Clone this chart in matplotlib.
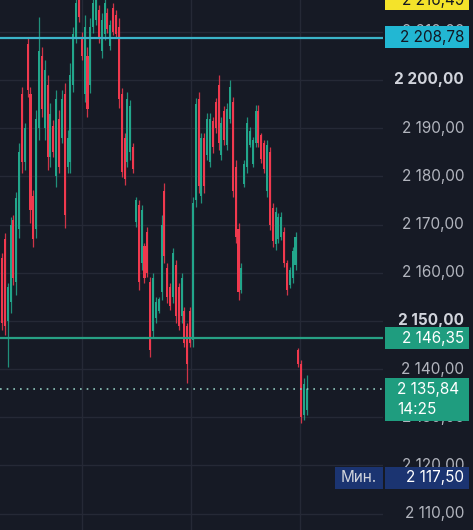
import matplotlib
matplotlib.use("Agg")
import matplotlib.pyplot as plt
from matplotlib.patches import Rectangle
from matplotlib.transforms import blended_transform_factory
import numpy as np

# ---- data ----
opens = [2163, 2167, 2150, 2154, 2171, 2158, 2169, 2197, 2183, 2207.5,
         2197, 2176, 2169, 2190, 2205, 2190, 2199, 2184, 2190.5, 2180,
         2192, 2188, 2197, 2182, 2183, 2199, 2209, 2218, 2209, 2197,
         2205, 2199, 2211, 2212.5, 2214.5, 2206, 2209.5, 2214, 2207, 2215,
         2213.5, 2211, 2197, 2188, 2183, 2185, 2186, 2170.5, 2174, 2162,
         2165.5, 2168.5, 2158, 2148, 2150.5, 2152, 2156, 2177, 2161, 2157,
         2155, 2161.5, 2157, 2151, 2152, 2149, 2152, 2146, 2175, 2196,
         2176, 2188, 2184.5, 2183, 2191.5, 2195.5, 2199, 2184.5, 2193.5, 2186.5,
         2192, 2195.5, 2182, 2169, 2156.5, 2178.5, 2182, 2186.5, 2182.5, 2187,
         2193.5, 2188.5, 2187, 2177, 2185, 2173.5, 2166, 2167, 2167.5, 2168.5,
         2162, 2157.5, 2159, 2161.5, 2144, 2141, 2130.5, 2131.5]
highs = [2164.1, 2168.3, 2157.9, 2171.6, 2172.0, 2176.8, 2186.9, 2198.5, 2191.1, 2208.9,
         2198.5, 2177.2, 2193.8, 2213.1, 2206.8, 2204.1, 2201.0, 2195.2, 2191.7, 2197.9,
         2193.8, 2197.9, 2199.4, 2189.6, 2203.5, 2211.0, 2218.0, 2219.0, 2210.0, 2213.5,
         2206.8, 2212.9, 2217.0, 2218.0, 2215.6, 2213.9, 2217.0, 2214.9, 2212.4, 2216.0,
         2214.5, 2212.9, 2198.3, 2189.0, 2197.5, 2195.9, 2186.9, 2175.7, 2175.1, 2174.1,
         2166.2, 2169.5, 2159.1, 2160.0, 2155.0, 2155.0, 2172.0, 2178.6, 2162.0, 2157.9,
         2165.1, 2162.7, 2157.9, 2160.0, 2152.9, 2149.6, 2152.9, 2175.7, 2196.3, 2197.5,
         2189.0, 2189.0, 2193.2, 2193.2, 2192.3, 2196.3, 2201.0, 2192.3, 2194.5, 2195.2,
         2200.0, 2196.5, 2183.4, 2170.3, 2162.0, 2183.4, 2192.3, 2190.2, 2188.2, 2194.8,
         2194.8, 2189.0, 2187.6, 2187.6, 2186.1, 2174.5, 2173.7, 2172.4, 2172.6, 2169.5,
         2162.7, 2161.2, 2165.4, 2168.5, 2144.4, 2141.9, 2138.2, 2138.8]
lows = [2148.1, 2147.1, 2140.5, 2151.7, 2157.5, 2155.4, 2167.2, 2180.7, 2181.3, 2196.5,
        2170.3, 2165.4, 2167.2, 2187.6, 2192.3, 2187.6, 2181.3, 2181.9, 2184.0, 2177.8,
        2180.7, 2186.9, 2169.3, 2180.7, 2180.7, 2197.5, 2207.7, 2212.0, 2204.1, 2195.4,
        2192.3, 2197.3, 2209.8, 2211.4, 2207.7, 2204.6, 2208.3, 2209.8, 2206.2, 2209.3,
        2208.9, 2194.2, 2179.9, 2178.2, 2181.9, 2183.4, 2180.7, 2169.5, 2156.4, 2160.6,
        2157.9, 2159.1, 2142.5, 2146.7, 2149.6, 2151.7, 2154.4, 2162.0, 2153.7, 2152.3,
        2153.7, 2149.6, 2148.1, 2149.6, 2144.6, 2137.1, 2144.6, 2144.6, 2173.7, 2176.6,
        2174.5, 2176.6, 2183.4, 2181.9, 2184.9, 2189.0, 2185.5, 2183.4, 2186.5, 2185.5,
        2191.1, 2175.7, 2166.2, 2154.4, 2155.8, 2177.8, 2180.7, 2186.1, 2181.9, 2186.1,
        2186.1, 2182.8, 2180.7, 2175.7, 2168.9, 2165.4, 2164.7, 2166.2, 2166.8, 2161.2,
        2155.4, 2156.8, 2157.9, 2160.6, 2140.5, 2128.8, 2129.5, 2130.5]
closes = [2149.5, 2149, 2157, 2170, 2159, 2175.5, 2185, 2183, 2190, 2198,
          2173, 2167, 2192, 2206, 2194, 2202, 2184, 2193, 2185, 2196,
          2182, 2196, 2172, 2188, 2201, 2209.5, 2216, 2213, 2205, 2211,
          2194, 2211, 2216, 2217, 2209, 2212.5, 2216, 2210.5, 2211.5, 2210,
          2209.5, 2196, 2181, 2179.5, 2196, 2194.5, 2181.5, 2175, 2158, 2173,
          2159, 2160, 2144, 2159, 2154, 2154.5, 2170, 2163.5, 2155, 2153,
          2164, 2151, 2149, 2159, 2145.5, 2141, 2145.5, 2174.5, 2195, 2178,
          2188, 2178, 2192, 2192, 2186, 2190, 2187, 2191, 2187.5, 2194,
          2198.5, 2177, 2167.5, 2156, 2161, 2182.5, 2191, 2189.5, 2187.5, 2193.5,
          2187, 2183.5, 2181.5, 2186.5, 2170, 2166.5, 2172.5, 2171.5, 2171.5, 2162,
          2156.5, 2160.5, 2164.5, 2167.5, 2141, 2130, 2137, 2135.84]

axis_ticks = [2110, 2120, 2130, 2140, 2150, 2160, 2170, 2180, 2190, 2200, 2210]
bold_ticks = [2150, 2200]
time_grid = [28.1, 66.3, 104.6]

level_top = 2208.78
level_mid = 2146.35
last_price = 2135.84
last_time = "14:25"
day_high = 2216.49
day_low = 2117.50
low_label = "Мин."

# ---- style ----
BG = "#161a25"
GRID = "#252936"
UP = "#22a68b"
DOWN = "#f0394e"
TXT = "#b2b5be"
FS = 11

plt.rcParams['font.family'] = ['Inter', 'Roboto', 'DejaVu Sans']

W, H = 473, 530
fig = plt.figure(figsize=(W / 100, H / 100), dpi=100)
fig.patch.set_facecolor(BG)
ax = fig.add_axes([0, 0, 383 / W, 1])
ax.set_facecolor(BG)

n = len(opens)
xs = np.arange(n)
ax.set_xlim(-0.7, 133.7)
ax.set_ylim(2106.6, 2216.6)

for t in axis_ticks:
    ax.axhline(t, color=GRID, lw=1, zorder=0)
for t in time_grid:
    ax.axvline(t, color=GRID, lw=1, zorder=0)

colors = [UP if c >= o else DOWN for o, c in zip(opens, closes)]
ax.vlines(xs, lows, highs, colors=colors, lw=0.9, zorder=2, alpha=0.85)
bottoms = np.minimum(opens, closes)
heights = np.abs(np.array(closes) - np.array(opens))
ax.bar(xs, heights, bottom=bottoms, width=0.72, color=colors, zorder=3, linewidth=0)

ax.axhline(level_top, color="#3bb4c9", lw=1.6, zorder=4)
ax.axhline(level_mid, color="#27a184", lw=1.6, zorder=4)
ax.axhline(last_price, color="#8fc9bd", lw=1.2, ls=(0, (1, 3)), zorder=4)

for s in ax.spines.values():
    s.set_visible(False)
ax.set_xticks([])
ax.set_yticks([])

tr = blended_transform_factory(fig.transFigure, ax.transData)
px = 1 / 4.82  # price units per pixel


def fmt(v):
    s = f"{v:,.2f}"
    return s.replace(",", " ").replace(".", ",")


for t in axis_ticks:
    bold = t in bold_ticks
    ax.text(464 / W, t, fmt(t), transform=tr, ha="right", va="center",
            fontsize=FS, color="#d1d4dc" if bold else TXT,
            fontweight="bold" if bold else "normal", clip_on=False, zorder=5)


def box(x0, x1, yc, hpx, color):
    r = Rectangle((x0 / W, yc - hpx / 2 * px), (x1 - x0) / W, hpx * px,
                  transform=tr, facecolor=color, edgecolor="none",
                  clip_on=False, zorder=6)
    ax.add_patch(r)


def label(x, y, s, color, ha="right"):
    ax.text(x / W, y, s, transform=tr, ha=ha, va="center",
            fontsize=FS, color=color, clip_on=False, zorder=7)


# day high (yellow, cut at top)
box(385, 469, day_high + 0.4, 22, "#f4e32a")
label(464, day_high, fmt(day_high), "#131722")

# level top
box(385, 469, level_top + 0.1, 22, "#22b7d3")
label(464, level_top, fmt(level_top), "#131722")

# level mid
box(385, 469, level_mid, 22, "#1f9d7f")
label(464, level_mid, fmt(level_mid), "white")

# last price + time
box(385, 469, last_price - 2.1, 43, "#1f9d7f")
label(397, last_price, fmt(last_price), "white", ha="left")
label(397, last_price - 20 * px, last_time, "white", ha="left")

# min label
box(335, 383, day_low - 0.1, 22, "#1b3471")
box(385, 469, day_low - 0.1, 22, "#1b3471")
label(359, day_low, low_label, "#d1d4dc", ha="center")
label(464, day_low, fmt(day_low), "white")

fig.savefig("out.png", dpi=100, facecolor=BG)
